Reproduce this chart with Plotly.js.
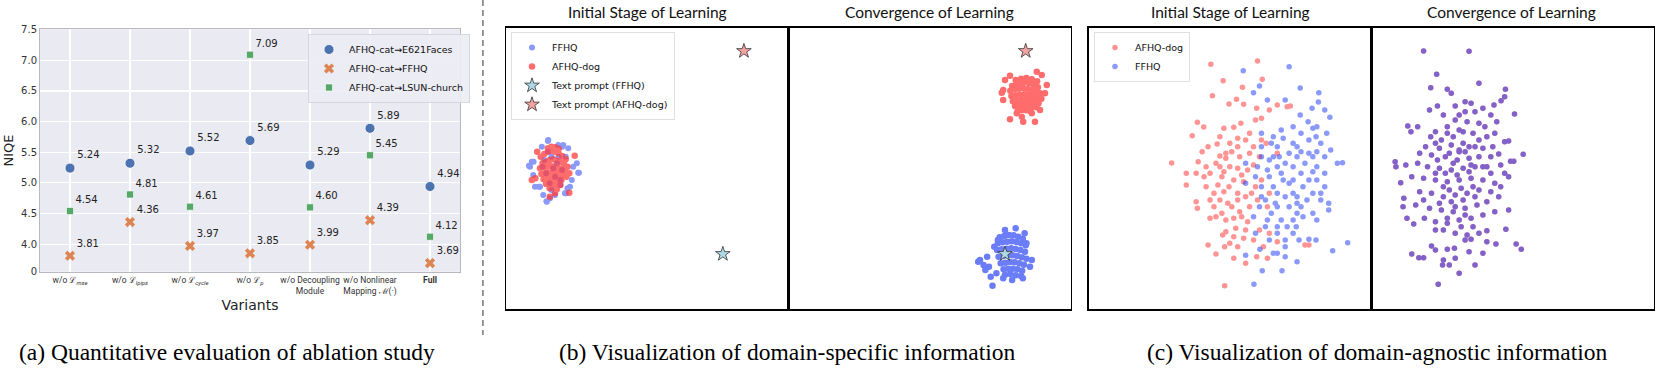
<!DOCTYPE html>
<html>
<head>
<meta charset="utf-8">
<script src="https://cdn.plot.ly/plotly-3.0.1.min.js"></script>
<style>body{margin:0;background:#fff}</style>
</head>
<body>
<div id="fig" style="width:1660px;height:368px"></div>
<script>
// (a) ablation study: NIQE for each variant
var variants = ['w/o ℒ<sub><i>mse</i></sub>', 'w/o ℒ<sub><i>lpips</i></sub>', 'w/o ℒ<sub><i>cycle</i></sub>',
  'w/o ℒ<sub><i>p</i></sub>', 'w/o Decoupling<br>Module', 'w/o Nonlinear<br>Mapping ℳ(·)', '<b>Full</b>'];
var niqeE621 = [5.24, 5.32, 5.52, 5.69, 5.29, 5.89, 4.94];
var niqeFFHQ = [3.81, 4.36, 3.97, 3.85, 3.99, 4.39, 3.69];
var niqeLSUN = [4.54, 4.81, 4.61, 7.09, 4.60, 5.45, 4.12];
var niqeTicks = [3.555, 4.0, 4.5, 5.0, 5.5, 6.0, 6.5, 7.0, 7.5];
var niqeTickText = ['0', '4.0', '4.5', '5.0', '5.5', '6.0', '6.5', '7.0', '7.5'];

// (b) domain-specific embeddings, [x, y] (y grows downward)
var bInitFFHQ = [[191,420],[233,435],[145,485],[275,518],[187,605],[238,580],[177,585],[154,560],[261,500],[257,540],
  [196,595],[247,445],[140,500],[149,525],[252,560],[210,585],[168,560],[219,435],[173,440],[271,490],
  [190,423],[137,497],[277,518],[186,604],[165,560],[245,565],[240,580],[150,485],[230,440],
  [200,470],[215,490],[185,520],[225,540],[205,505],[180,480],[230,510],[195,550],[220,470],[210,530],
  [175,500],[240,470],[200,570],[190,455],[225,555]];
var bInitDog = [[170,470],[180,462],[190,455],[200,452],[210,455],[220,460],[230,468],[240,478],
  [175,490],[185,485],[195,480],[205,478],[215,482],[225,486],[235,492],[245,500],
  [168,505],[178,502],[188,500],[198,498],[208,500],[218,503],[228,508],[238,512],
  [172,522],[182,520],[192,518],[202,516],[212,518],[222,522],[232,526],[242,530],
  [178,538],[188,536],[198,535],[208,534],[218,536],[228,540],
  [185,552],[195,550],[205,548],[215,550],[225,555],[195,565],[205,562],[215,568],
  [190,445],[200,440],[210,442],[220,446],
  [265,467],[145,540],[155,535],[210,580],[250,578],[195,590],[160,455],[250,520]];
var bConvFFHQ = [[1455,712],[1468,708],[1481,705],[1494,706],[1507,710],[1520,716],
  [1450,730],[1463,727],[1476,725],[1489,724],[1502,726],[1515,730],[1528,736],
  [1448,750],[1461,748],[1474,746],[1487,745],[1500,747],[1513,750],[1526,755],
  [1452,770],[1465,768],[1478,766],[1491,766],[1504,768],[1517,772],[1530,776],
  [1458,790],[1471,788],[1484,786],[1497,787],[1510,790],[1523,794],
  [1466,808],[1479,806],[1492,806],[1505,808],[1518,812],
  [1470,824],[1485,822],[1500,826],[1515,828],
  [1400,780],[1410,795],[1420,770],[1395,785],[1435,857],[1415,810],[1430,830],[1440,740],[1425,800],[1450,720],
  [1470,690],[1500,685],[1525,700],[1545,780],[1540,800],[1520,835],[1490,840],[1465,835],[1446,820],[1530,730]];
var bConvDog = [[1490,258],[1502,252],[1514,248],[1526,246],[1538,250],[1550,254],[1562,262],
  [1485,272],[1497,268],[1509,266],[1521,264],[1533,266],[1545,270],[1557,274],[1569,280],
  [1488,288],[1500,286],[1512,284],[1524,283],[1536,285],[1548,288],[1560,292],[1572,296],
  [1492,304],[1504,302],[1516,300],[1528,300],[1540,302],[1552,306],[1564,310],
  [1498,318],[1510,316],[1522,315],[1534,316],[1546,320],[1558,322],
  [1506,332],[1518,330],[1530,331],[1542,334],
  [1500,240],[1515,236],[1530,234],[1545,238],[1560,244],
  [1461,278],[1465,300],[1484,227],[1559,215],[1573,225],[1587,255],[1582,280],[1568,330],
  [1554,365],[1521,365],[1484,358],[1517,350],[1470,240],[1503,340],[1545,340],[1465,270]];
var promptFFHQ = {init: [680, 762], conv: [1470, 762]};
var promptDog = {init: [739, 153], conv: [1528, 153]};

// (c) domain-agnostic embeddings
var cInitDog = [[432,193],[550,183],[463,242],[562,238],[436,287],[512,262],[497,298],[478,312],[515,313],[548,325],
  [580,330],[600,315],[625,320],[633,318],[398,367],[414,381],[385,407],[465,385],[490,382],[508,370],
  [545,360],[560,355],[333,489],[370,520],[400,485],[425,440],[448,432],[455,468],[470,475],[480,500],
  [500,440],[520,420],[540,440],[555,470],[572,430],[600,460],[420,560],[440,580],[395,605],[398,625],
  [430,655],[460,640],[475,610],[500,600],[510,650],[530,620],[545,560],[560,540],[580,580],[470,695],
  [490,710],[520,690],[540,720],[425,735],[445,762],[467,740],[490,775],[520,790],[548,770],[575,775],
  [467,857],[370,555],[430,520],[460,530],[490,540],[510,525],[525,510],[540,495],[478,560],[500,580],
  [455,600],[520,590],[505,470],[530,460],[485,455],[455,500],[440,620],[470,660],[495,685],[515,715],
  [565,740],[600,725],[680,735],[670,735],[445,490],[465,515],[500,505],[515,545],[535,580],[465,575],
  [485,620],[450,555],[505,635],[490,655],[525,665],[445,650],[470,460],[500,415],[530,400],[560,420],
  [550,600],[575,620],[455,410],[480,430],[420,500],[415,530],[430,600],[462,705],[500,740],[480,730],
  [555,690],[580,700],[410,455],[395,520]];
var cInitFFHQ = [[514,212],[630,200],[555,258],[540,278],[575,300],[620,300],[658,264],[705,278],[688,325],[704,306],
  [720,330],[733,352],[658,345],[678,365],[690,385],[698,410],[640,380],[610,390],[590,410],[560,400],
  [600,440],[640,430],[650,470],[680,460],[700,455],[735,450],[752,490],[765,488],[720,520],[700,540],
  [690,580],[730,610],[730,630],[700,660],[665,650],[650,610],[630,550],[610,520],[600,500],[580,530],
  [560,560],[570,600],[585,640],[610,660],[600,700],[640,700],[680,718],[698,720],[778,728],[740,752],
  [650,785],[612,812],[562,812],[541,853],[556,748],[520,766],[580,480],[620,490],[660,520],[640,580],
  [600,580],[555,620],[540,650],[630,620],[665,560],[700,500],[590,760],[620,740],[710,580],[675,600],
  [550,500],[560,470],[590,470],[545,530],[520,550],[570,680],[600,620],[648,680],[600,760],[620,770],
  [545,700],[680,420],[710,430],[660,400],[630,460],[520,490],[690,515],[720,560],[650,640],[625,680],
  [560,440],[585,430],[615,415],[650,440],[670,490],[640,500],[615,540],[590,560],[620,590],[650,590],
  [680,540],[710,600],[690,640],[660,620],[640,660],[600,680],[575,660],[560,590],[595,610],[575,510],
  [605,470],[640,540],[660,455],[690,470],[620,720],[655,720],[580,720],[720,470],[725,400],[700,380]];
var cConvAll = [[970,153],[1085,154],[1003,223],[1110,250],[988,263],[1030,268],[1040,280],[1177,268],[1175,290],[1166,302],
  [1148,315],[1120,325],[1090,310],[1075,305],[1050,318],[1020,345],[985,330],[1005,318],[1060,345],[1200,342],
  [1140,345],[1110,370],[1080,365],[1050,360],[1030,380],[1000,395],[930,378],[955,380],[938,395],[988,410],
  [1015,420],[1045,410],[1070,395],[1095,400],[1130,410],[1150,400],[1175,425],[1185,423],[1145,440],[1120,445],
  [1100,440],[1070,430],[1040,435],[1010,445],[975,440],[960,460],[990,465],[1025,470],[1055,480],[1085,475],
  [1110,470],[1140,470],[1160,462],[1222,463],[1190,484],[1198,484],[1165,495],[1130,500],[1100,500],[1070,505],
  [1040,510],[1010,505],[980,500],[955,490],[925,495],[898,485],[900,500],[912,548],[940,530],[970,535],
  [1000,540],[1030,545],[1060,540],[1090,535],[1120,540],[1150,550],[1175,520],[1185,530],[1165,560],[1140,575],
  [1110,570],[1080,580],[1050,585],[1020,590],[990,580],[960,575],[970,600],[920,595],[918,620],[950,615],
  [985,625],[1015,630],[1045,635],[1075,625],[1105,615],[1130,605],[1160,590],[1185,630],[1150,635],[1120,645],
  [1090,655],[1060,660],[1030,655],[1000,665],[972,655],[928,655],[945,672],[1000,690],[1020,690],[1050,700],
  [1080,705],[1110,700],[1130,692],[1178,688],[1075,720],[1090,718],[1130,725],[1153,732],[1204,732],[1217,748],
  [1120,760],[1085,755],[1048,745],[1030,748],[1000,750],[990,738],[940,762],[958,773],[970,773],[1020,780],
  [1050,775],[1035,795],[1018,795],[1060,820],[1100,795],[1007,853],[1035,460],[1060,455],[1045,490],[1075,455],
  [1090,495],[1025,520],[1055,525],[1085,515],[1005,480],[1035,570],[1065,565],[1095,560],[1010,610],[1040,605],
  [1070,600],[1100,590],[1050,620],[1075,645],[1030,670],[1065,680],[1095,680],[1120,500],[1140,520],[1000,520],
  [1020,560],[1060,450],[1085,440],[1110,420],[1000,430],[1030,400],[1060,390],[1125,380],[1155,365],[1075,335],
  [1100,335]];

var BLUE = 'rgb(45,70,245)';
var RED = 'rgb(255,60,60)';
function xs(p) { return p.map(function (d) { return d[0]; }); }
function ys(p) { return p.map(function (d) { return d[1]; }); }

function cloud(pts, color, name, xa, ya, legend, show, op, sz) {
  return {
    x: xs(pts), y: ys(pts), xaxis: xa, yaxis: ya, type: 'scatter', mode: 'markers', name: name,
    marker: {color: color, size: sz, line: {width: 0}}, opacity: op,
    legend: legend, showlegend: show, hoverinfo: 'skip'
  };
}
function star(pt, fill, name, xa, ya, show) {
  return {
    x: [pt[0]], y: [pt[1]], xaxis: xa, yaxis: ya, type: 'scatter', mode: 'markers', name: name,
    marker: {symbol: 'star', size: 11, color: fill, line: {width: 0.8, color: '#333'}},
    legend: 'legend2', showlegend: show, hoverinfo: 'skip'
  };
}

var txtFont = {family: 'DejaVu Sans', size: 10, color: '#222'};
var traceE621 = {
  x: variants, y: niqeE621, name: 'AFHQ-cat→E621Faces', type: 'scatter', mode: 'markers+text',
  text: niqeE621.map(function (v) { return v.toFixed(2); }), textposition: 'top right', textfont: txtFont,
  marker: {color: '#4c72b0', size: 10, line: {width: 0.8, color: '#fff'}}, cliponaxis: false
};
var traceFFHQ = {
  x: variants, y: niqeFFHQ, name: 'AFHQ-cat→FFHQ', type: 'scatter', mode: 'markers+text',
  text: niqeFFHQ.map(function (v) { return v.toFixed(2); }), textposition: 'top right', textfont: txtFont,
  marker: {color: '#dd8452', size: 9, symbol: 'x', line: {width: 0}}, cliponaxis: false
};
var traceLSUN = {
  x: variants, y: niqeLSUN, name: 'AFHQ-cat→LSUN-church', type: 'scatter', mode: 'markers+text',
  text: niqeLSUN.map(function (v) { return v.toFixed(2); }), textposition: 'top right', textfont: txtFont,
  marker: {color: '#55a868', size: 7, symbol: 'square', line: {width: 0.6, color: '#fff'}}, cliponaxis: false
};

var data = [traceE621, traceFFHQ, traceLSUN,
  cloud(bInitFFHQ, BLUE, 'FFHQ', 'x2', 'y2', 'legend2', true, 0.55, 6),
  cloud(bInitDog, RED, 'AFHQ-dog', 'x2', 'y2', 'legend2', true, 0.75, 6.5),
  star(promptFFHQ.init, '#add8e6', 'Text prompt (FFHQ)', 'x2', 'y2', true),
  star(promptDog.init, '#f4a3a3', 'Text prompt (AFHQ-dog)', 'x2', 'y2', true),
  cloud(bConvFFHQ, BLUE, 'FFHQ', 'x3', 'y3', 'legend2', false, 0.7, 6.5),
  cloud(bConvDog, RED, 'AFHQ-dog', 'x3', 'y3', 'legend2', false, 0.75, 6.5),
  star(promptFFHQ.conv, '#add8e6', 'Text prompt (FFHQ)', 'x3', 'y3', false),
  star(promptDog.conv, '#f4a3a3', 'Text prompt (AFHQ-dog)', 'x3', 'y3', false),
  cloud(cInitDog, RED, 'AFHQ-dog', 'x4', 'y4', 'legend3', true, 0.55, 5.5),
  cloud(cInitFFHQ, BLUE, 'FFHQ', 'x4', 'y4', 'legend3', true, 0.55, 5.5),
  cloud(cConvAll, RED, 'AFHQ-dog', 'x5', 'y5', 'legend3', false, 0.6, 5.5),
  cloud(cConvAll, BLUE, 'FFHQ', 'x5', 'y5', 'legend3', false, 0.6, 5.5)
];

function box(dom, rng, anchor) {
  return {domain: dom, range: rng, anchor: anchor, showgrid: false, zeroline: false, showticklabels: false, ticks: '',
    showline: true, mirror: true, linecolor: '#000', linewidth: 1.5, fixedrange: true};
}
var yDom = [1 - 309.3 / 368, 1 - 27.7 / 368];
var title = function (t, x) {
  return {text: t, x: x, y: 0.968, xref: 'paper', yref: 'paper', xanchor: 'center', yanchor: 'middle',
    showarrow: false, font: {family: 'Lato', size: 15.5, color: '#111'}};
};
var caption = function (t, x) {
  return {text: t, x: x, y: 0.044, xref: 'paper', yref: 'paper', xanchor: 'center', yanchor: 'middle',
    showarrow: false, font: {family: 'Liberation Serif', size: 23.5, color: '#000'}};
};
var legFont = {family: 'DejaVu Sans', size: 9.5, color: '#111'};

var layout = {
  width: 1660, height: 368,
  margin: {l: 0, r: 0, t: 0, b: 0},
  paper_bgcolor: '#fff', plot_bgcolor: 'rgba(0,0,0,0)',
  showlegend: true,
  font: {family: 'DejaVu Sans', color: '#333'},
  xaxis: {domain: [40 / 1660, 460 / 1660], anchor: 'y', type: 'category', range: [-0.5, 6.5],
    showgrid: true, gridcolor: '#fff', gridwidth: 1.2, zeroline: false, ticks: '', tickangle: 0,
    showline: true, mirror: true, linecolor: '#b8b8c0', linewidth: 1,
    tickfont: {family: 'Roboto', size: 8.5, color: '#333'},
    title: {text: 'Variants', font: {size: 14, color: '#222'}, standoff: 4}},
  yaxis: {domain: [1 - 271.7 / 368, 1 - 29.3 / 368], anchor: 'x', range: [3.55, 7.505],
    tickvals: niqeTicks, ticktext: niqeTickText,
    showgrid: true, gridcolor: '#fff', gridwidth: 1.2, zeroline: false, ticks: '',
    showline: true, mirror: true, linecolor: '#b8b8c0', linewidth: 1,
    tickfont: {size: 10, color: '#333'},
    title: {text: 'NIQE', font: {size: 13, color: '#222'}, standoff: 4}},
  xaxis2: box([506.1 / 1660, 788.2 / 1660], [73, 863], 'y2'),
  yaxis2: box(yDom, [928, 83], 'x2'),
  xaxis3: box([788.2 / 1660, 1070.7 / 1660], [863, 1654], 'y3'),
  yaxis3: box(yDom, [928, 83], 'x3'),
  xaxis4: box([1088.6 / 1660, 1371.4 / 1660], [123, 838], 'y4'),
  yaxis4: box(yDom, [928, 83], 'x4'),
  xaxis5: box([1371.4 / 1660, 1653.7 / 1660], [838, 1552], 'y5'),
  yaxis5: box(yDom, [928, 83], 'x5'),
  legend: {x: 308 / 1660, y: 1 - 34 / 368, xanchor: 'left', yanchor: 'top',
    bgcolor: 'rgba(236,236,244,0.9)', bordercolor: '#d6d6de', borderwidth: 1, font: legFont, itemwidth: 30},
  legend2: {x: 511 / 1660, y: 1 - 32 / 368, xanchor: 'left', yanchor: 'top',
    bgcolor: 'rgba(255,255,255,0.9)', bordercolor: '#e0e0e0', borderwidth: 1, font: legFont, itemwidth: 30},
  legend3: {x: 1094 / 1660, y: 1 - 32 / 368, xanchor: 'left', yanchor: 'top',
    bgcolor: 'rgba(255,255,255,0.9)', bordercolor: '#e0e0e0', borderwidth: 1, font: legFont, itemwidth: 30},
  shapes: [
    {type: 'rect', xref: 'x domain', yref: 'y domain', x0: 0, x1: 1, y0: 0, y1: 1,
      fillcolor: '#eaeaf2', line: {width: 0}, layer: 'below'},
    {type: 'line', xref: 'paper', yref: 'paper', x0: 482.9 / 1660, x1: 482.9 / 1660, y0: 1, y1: 1 - 335 / 368,
      line: {color: '#777', width: 1.5, dash: '6px,4px'}}
  ],
  annotations: [
    title('Initial Stage of Learning', 647.9 / 1660),
    title('Convergence of Learning', 929.3 / 1660),
    title('Initial Stage of Learning', 1230.6 / 1660),
    title('Convergence of Learning', 1511.7 / 1660),
    caption('(a) Quantitative evaluation of ablation study', 226.7 / 1660),
    caption('(b) Visualization of domain-specific information', 787 / 1660),
    caption('(c) Visualization of domain-agnostic information', 1377 / 1660)
  ]
};

Plotly.newPlot('fig', data, layout, {displayModeBar: false, staticPlot: true});
</script>
</body>
</html>
